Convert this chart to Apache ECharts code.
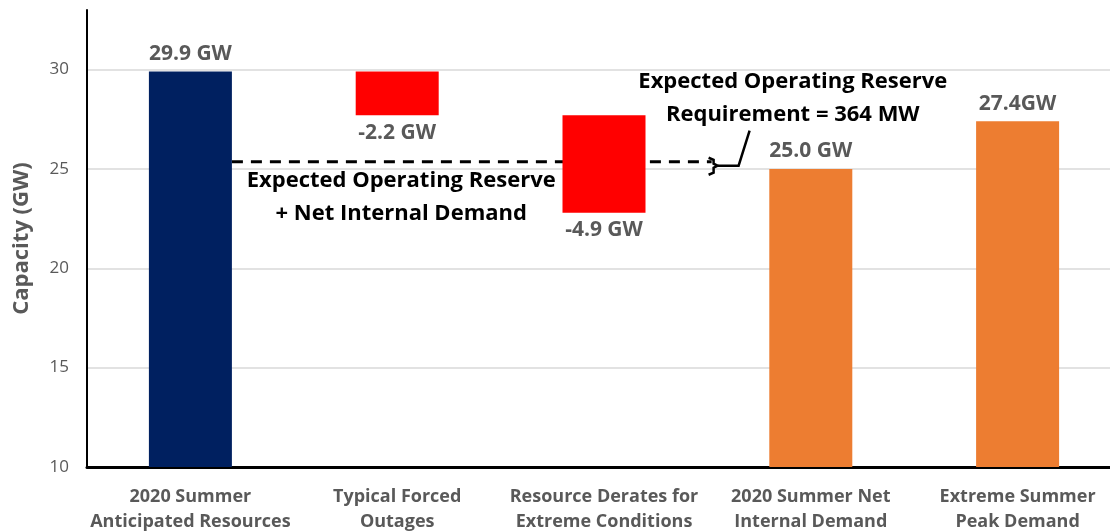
<!DOCTYPE html>
<html>
<head>
<meta charset="utf-8">
<script src="https://cdn.jsdelivr.net/npm/echarts@6/dist/echarts.min.js"></script>
<style>
  html, body { margin: 0; padding: 0; background: #fff; }
  #chart { width: 1110px; height: 531px; }
</style>
</head>
<body>
<div id="chart"></div>
<script>
// categories and values
const categories = [
  '2020 Summer\nAnticipated Resources',
  'Typical Forced\nOutages',
  'Resource Derates for\nExtreme Conditions',
  '2020 Summer Net\nInternal Demand',
  'Extreme Summer\nPeak Demand'
]
const values = [29.9, -2.2, -4.9, 25.0, 27.4]
const barLabels = ['29.9 GW', '-2.2 GW', '-4.9 GW', '25.0 GW', '27.4GW']
const reserveMW = 364
const yTicks = [10, 15, 20, 25, 30]

const barColors = ['#002060', '#FF0000', '#FF0000', '#ED7D31', '#ED7D31']
const grey = '#595959'
const font = '"Open Sans", sans-serif'

// waterfall: bars 2 and 3 hang from the running total
const base = []
const height = []
let running = 0
values.forEach((v, i) => {
  if (v < 0) {
    running += v
    base.push(running)
    height.push(-v)
  } else {
    running = v
    base.push(0)
    height.push(v)
  }
})

const chart = echarts.init(document.getElementById('chart'))
const barWidth = 83

const option = {
  animation: false,
  grid: { left: 87, right: -11, top: 10, bottom: 64, outerBoundsMode: 'none' },
  xAxis: {
    type: 'category',
    data: categories,
    axisLine: { lineStyle: { color: '#000', width: 3 } },
    axisTick: { show: false },
    axisLabel: {
      color: grey, fontFamily: font, fontSize: 18, fontWeight: 'bold',
      lineHeight: 25, margin: 17, interval: 0
    }
  },
  yAxis: {
    type: 'value',
    min: 10,
    max: 33,
    interval: 5,
    name: 'Capacity (GW)',
    nameLocation: 'middle',
    nameGap: 54,
    nameTextStyle: { color: grey, fontFamily: font, fontSize: 22, fontWeight: 'bold' },
    axisLine: { show: true, lineStyle: { color: '#000', width: 2 } },
    axisTick: { show: false },
    axisLabel: {
      color: grey, fontFamily: font, fontSize: 17, margin: 18,
      formatter: v => (yTicks.includes(v) ? String(v) : '')
    },
    splitLine: {
      lineStyle: {
        color: ['#d9d9d9', '#d9d9d9', '#d9d9d9', '#d9d9d9', '#d9d9d9', 'rgba(0,0,0,0)'],
        width: 1.5
      }
    }
  },
  series: [
    {
      type: 'bar',
      stack: 'w',
      data: base,
      barWidth: barWidth,
      itemStyle: { color: 'rgba(0,0,0,0)' },
      emphasis: { disabled: true },
      z: 3
    },
    {
      type: 'bar',
      stack: 'w',
      barWidth: barWidth,
      z: 3,
      data: height.map((h, i) => ({
        value: h,
        itemStyle: { color: barColors[i] },
        label: { position: values[i] < 0 ? 'bottom' : 'top' }
      })),
      label: {
        show: true,
        distance: 7,
        color: grey,
        fontFamily: font,
        fontSize: 21,
        fontWeight: 'bold',
        formatter: p => barLabels[p.dataIndex]
      }
    }
  ]
}
chart.setOption(option)

// annotation: reserve level on top of net internal demand
const reserveLevel = values[3] + reserveMW / 1000
const px = (i, v) => chart.convertToPixel({ gridIndex: 0 }, [i, v])
const catW = px(1, 20)[0] - px(0, 20)[0]
const yRes = px(0, reserveLevel)[1]
const x0 = px(0, reserveLevel)[0] + barWidth / 2
const xb = px(2, reserveLevel)[0] + catW * 0.53
const mid = yRes + 4

chart.setOption({
  graphic: [
    {
      type: 'line', z: 1,
      shape: { x1: x0, y1: yRes, x2: xb - 2, y2: yRes },
      style: { stroke: '#000', lineWidth: 3, lineDash: [11, 8] }
    },
    {
      type: 'polyline', z: 5,
      shape: { points: [[xb - 5, yRes - 4], [xb, yRes - 2], [xb, mid - 2], [xb + 4, mid], [xb, mid + 2], [xb, yRes + 11], [xb - 5, yRes + 13]] },
      style: { stroke: '#000', lineWidth: 2.5, fill: null }
    },
    {
      type: 'polyline', z: 5,
      shape: { points: [[xb + 4, mid], [xb + 25, mid], [xb + 36, mid - 35]] },
      style: { stroke: '#000', lineWidth: 2.5, fill: null }
    },
    {
      type: 'text', z: 5,
      x: px(3, 0)[0] - 18, y: 65,
      style: {
        text: 'Expected Operating Reserve\nRequirement = ' + reserveMW + ' MW',
        fill: '#000', font: 'bold 22px ' + font,
        align: 'center', verticalAlign: 'top', lineHeight: 33
      }
    },
    {
      type: 'text', z: 5,
      x: px(1, 0)[0] + 4, y: yRes + 3,
      style: {
        text: 'Expected Operating Reserve\n+ Net Internal Demand',
        fill: '#000', font: 'bold 22px ' + font,
        align: 'center', verticalAlign: 'top', lineHeight: 33
      }
    }
  ]
})
</script>
</body>
</html>
